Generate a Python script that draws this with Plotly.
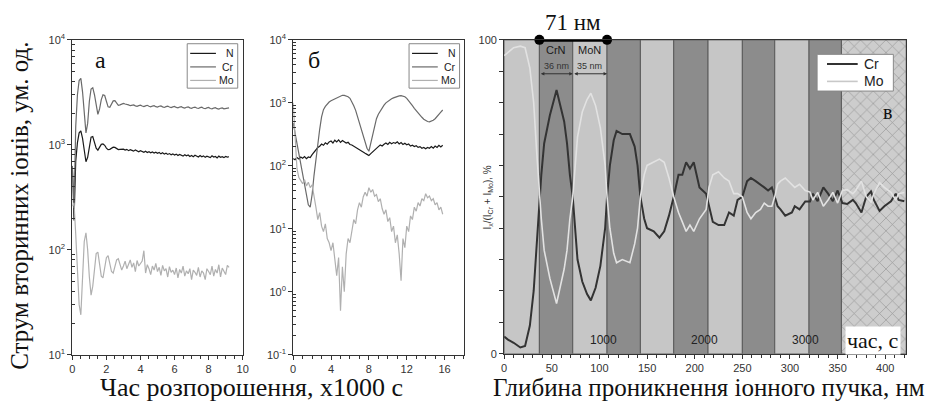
import plotly.graph_objects as go

# ---------------- data: panel a (time, x1000 s; step 0.1) ----------------
a_N = [630, 190, 700, 1050, 1300, 1360, 1150, 850, 690, 760, 1000, 1180, 1200, 1080, 930, 890, 940, 1010, 1020, 990,
       930, 900, 905, 935, 950, 945, 920, 900, 905, 915, 910, 890, 905, 880, 900, 885, 870, 895, 875, 860,
       880, 865, 850, 870, 845, 860, 840, 855, 835, 850, 830, 845, 820, 840, 815, 830, 810, 825, 805, 820,
       800, 815, 790, 810, 795, 780, 805, 785, 800, 775, 790, 770, 795, 780, 765, 790, 770, 785, 760, 780,
       770, 755, 785, 765, 775, 750, 780, 760, 770, 755, 775, 765, 770]
a_Cr = [620, 250, 1500, 3000, 4100, 4300, 3200, 1900, 1300, 1600, 2600, 3400, 3500, 3000, 2300, 1950, 2200, 2700, 3000, 2950,
        2600, 2300, 2280, 2450, 2620, 2630, 2500, 2380, 2400, 2430, 2480, 2450, 2440, 2400, 2360, 2380, 2400, 2350, 2330, 2360,
        2390, 2340, 2310, 2350, 2380, 2330, 2300, 2340, 2360, 2310, 2290, 2330, 2350, 2300, 2270, 2310, 2340, 2290, 2260, 2300,
        2320, 2270, 2250, 2290, 2310, 2260, 2240, 2280, 2300, 2250, 2230, 2270, 2290, 2240, 2220, 2260, 2280, 2230, 2210, 2250,
        2270, 2220, 2200, 2240, 2260, 2210, 2190, 2230, 2250, 2200, 2220, 2260, 2250]
a_Mo = [260, 280, 140, 60, 30, 24, 50, 120, 145, 100, 55, 37, 45, 70, 92, 95, 75, 56, 54, 68,
        84, 88, 76, 62, 60, 68, 80, 82, 72, 64, 70, 78, 66, 74, 80, 68, 75, 62, 79, 70,
        73, 78, 98, 60, 72, 66, 58, 70, 64, 74, 62, 68, 57, 71, 63, 66, 55, 69, 61, 64,
        58, 67, 54, 65, 60, 70, 56, 63, 59, 66, 52, 64, 61, 57, 68, 55, 63, 60, 52, 66,
        62, 58, 70, 56, 65, 60, 72, 55, 67, 63, 58, 71, 68]

# ---------------- data: panel b (time, x1000 s; step 0.2) ----------------
b_N = [130, 125, 135, 128, 138, 132, 140, 130, 138, 135, 150, 165, 178, 195, 205, 222, 212, 232, 220, 240,
       248, 230, 255, 240, 258, 236, 252, 240, 230, 236, 218, 214, 204, 198, 188, 178, 172, 164, 158, 152,
       146, 156, 168, 178, 192, 202, 214, 206, 220, 230, 218, 236, 224, 234, 228, 240, 222, 234, 218, 228,
       216, 222, 206, 212, 202, 208, 196, 202, 190, 196, 186, 196, 190, 202, 190, 206, 196, 212, 200, 212]
b_Cr = [480, 330, 230, 160, 110, 81, 55, 35, 24, 22, 35, 70, 130, 220, 380, 600, 780, 880, 960, 1030,
        1080, 1120, 1170, 1200, 1250, 1290, 1320, 1310, 1290, 1250, 1180, 1050, 900, 760, 600, 480, 390, 310, 240, 190,
        170, 230, 330, 440, 560, 660, 750, 840, 920, 1000, 1060, 1110, 1160, 1200, 1240, 1270, 1290, 1300, 1290, 1250,
        1180, 1090, 990, 900, 820, 750, 690, 640, 590, 550, 520, 505, 500, 510, 530, 560, 600, 650, 710, 770]
b_Mo = [1000, 300, 90, 65, 58, 52, 60, 48, 55, 45, 50, 35, 22, 14, 18, 11, 9, 12, 7, 6,
        4.5, 6, 3, 1.8, 3.5, 0.5, 2.5, 1.0, 4, 7, 6, 10, 14, 12, 20, 26, 22, 32, 38, 33,
        45, 38, 42, 33, 35, 27, 30, 21, 17, 20, 13, 15, 9, 11, 6, 8, 4, 1.5, 7, 5,
        11, 9, 16, 14, 22, 19, 26, 23, 30, 28, 36, 31, 33, 28, 30, 24, 26, 20, 22, 17]

# ---------------- data: panel v (depth, nm) ----------------
depth_v = [0, 4, 10, 17, 22, 27, 31, 34, 37, 39, 42, 48, 55, 59, 63, 66, 69, 72, 77, 82,
           87, 91, 96, 101, 106, 108, 111, 115, 118, 124, 132, 137, 140, 143, 147, 150, 157, 163, 168, 173,
           178, 183, 187, 191, 195, 199, 205, 212, 215, 219, 225, 231, 236, 241, 245, 250, 255, 259, 264, 269,
           273, 277, 281, 284, 287, 290, 295, 302, 305, 310, 316, 321, 324, 329, 335, 340, 345, 350, 355, 360,
           366, 369, 375, 380, 385, 388, 394, 399, 406, 411, 414, 420]
v_Cr = [5.5, 4.5, 3.5, 2, 2.5, 9, 20, 35, 50, 57, 67, 76, 84, 79, 74, 67, 57, 50, 30, 23,
        19, 17, 21, 28, 40, 50, 60, 68, 71, 70, 70, 66, 60, 50, 43, 40, 39, 37, 39, 44,
        50, 57, 57, 61, 59, 61, 53, 51, 47, 42, 41, 41, 45, 44, 49, 50, 55, 56, 55, 54,
        53, 52, 53, 50, 47, 46, 44, 45, 47, 46, 48.5, 48.5, 51, 48.6, 53, 51, 48.6, 52, 48, 47.7,
        49, 48, 45, 50, 51.7, 49, 45.5, 47, 48.6, 51, 49, 48.6]
v_Mo = [95, 96, 97.5, 98, 97.5, 91, 80, 65, 50, 43, 33, 24, 16, 21, 27, 33, 43, 50, 69, 77,
        81, 83, 79, 72, 60, 50, 40, 32, 29, 30, 29, 35, 40, 50, 57, 60, 61, 62, 61, 56,
        50, 45, 42, 39, 41, 39, 43, 46, 53, 57, 58, 56, 55, 51, 51, 50, 45, 43, 45, 46,
        48, 47, 47, 50, 54, 55, 56, 54, 53, 54, 52, 51.5, 49, 51.4, 47, 49, 51.4, 48, 52, 52.3,
        51, 52, 55, 50, 48.3, 51, 54.5, 53, 51.4, 49, 51, 51.4]

band_edges = [0, 37, 72, 108, 143, 178, 214, 250, 284, 320, 354, 422]
band_kind = ["light", "dark", "light", "dark", "light", "dark", "light", "dark", "light", "dark", "hatch"]
period_span = [37, 108]
period_label = "71 нм"
layer_names = ["CrN", "MoN"]
layer_thick = ["36 nm", "35 nm"]
time_marks = [104, 210, 316]
time_labels = ["1000", "2000", "3000"]
legend_ab = ["N", "Cr", "Mo"]
legend_v = ["Cr", "Mo"]

assert len(depth_v) == len(v_Cr) == len(v_Mo)

t_a = [round(0.1 * i, 1) for i in range(len(a_N))]
t_b = [round(0.2 * i, 1) for i in range(len(b_N))]

SERIF = "Liberation Serif, Times New Roman, serif"
SANS = "Liberation Sans, Arial, sans-serif"
W, H = 936, 409


def px(x):
    return x / W


def py(y):
    return 1 - y / H


C_N, C_CR, C_MO = "#1a1a1a", "#6a6a6a", "#b0b0b0"
COLS_AB = [C_N, C_CR, C_MO]
COLS_V = ["#333333", "#e2e2e2"]

fig = go.Figure()

for name, vals, col in zip(legend_ab, [a_N, a_Cr, a_Mo], COLS_AB):
    fig.add_trace(go.Scatter(x=t_a, y=vals, name=name, mode="lines", line=dict(color=col, width=1.2),
                             xaxis="x", yaxis="y", showlegend=False))
for name, vals, col in zip(legend_ab, [b_N, b_Cr, b_Mo], COLS_AB):
    fig.add_trace(go.Scatter(x=t_b, y=vals, name=name, mode="lines", line=dict(color=col, width=1.2),
                             xaxis="x2", yaxis="y2", showlegend=False))

# bands
centers = [(band_edges[i] + band_edges[i + 1]) / 2 for i in range(len(band_kind))]
widths = [band_edges[i + 1] - band_edges[i] for i in range(len(band_kind))]
plain_idx = [i for i, k in enumerate(band_kind) if k != "hatch"]
hatch_idx = [i for i, k in enumerate(band_kind) if k == "hatch"]
fig.add_trace(go.Bar(x=[centers[i] for i in plain_idx], y=[100] * len(plain_idx),
                     width=[widths[i] for i in plain_idx],
                     marker=dict(color=["#c6c6c6" if band_kind[i] == "light" else "#8c8c8c" for i in plain_idx],
                                 line=dict(color="#5a5a5a", width=1)),
                     xaxis="x3", yaxis="y3", showlegend=False, hoverinfo="skip"))
fig.add_trace(go.Bar(x=[centers[i] for i in hatch_idx], y=[100] * len(hatch_idx),
                     width=[widths[i] for i in hatch_idx],
                     marker=dict(color="#d2d2d2", line=dict(color="#5a5a5a", width=1),
                                 pattern=dict(shape="x", fillmode="replace", bgcolor="#cdcdcd",
                                              fgcolor="#969696", size=9, solidity=0.14)),
                     xaxis="x3", yaxis="y3", showlegend=False, hoverinfo="skip"))

for name, vals, col, w in zip(legend_v, [v_Cr, v_Mo], COLS_V, [2, 1.6]):
    fig.add_trace(go.Scatter(x=depth_v, y=vals, name=name, mode="lines", line=dict(color=col, width=w),
                             xaxis="x3", yaxis="y3", showlegend=False))

# 71 nm bar
fig.add_trace(go.Scatter(x=period_span, y=[100, 100], mode="lines+markers",
                         line=dict(color="black", width=4), marker=dict(color="black", size=10),
                         xaxis="x3", yaxis="y3", showlegend=False, cliponaxis=False, hoverinfo="skip"))

tickfont = dict(family=SANS, size=11, color="#333")
ydom = [py(359), py(33)]


def log_minor(lo, hi):
    return [m * 10 ** d for d in range(lo, hi) for m in range(2, 10)]


axis_common = dict(showline=True, mirror=True, linecolor="#333", linewidth=1, showgrid=False, zeroline=False,
                   tickfont=tickfont, ticks="outside", ticklen=4, tickcolor="#333")

layout = dict(
    width=W, height=H, margin=dict(l=0, r=0, t=0, b=0),
    paper_bgcolor="white", plot_bgcolor="white", barmode="overlay", showlegend=False,
    xaxis=dict(domain=[px(70), px(242)], range=[0, 10], dtick=2, anchor="y",
               minor=dict(dtick=0.5, ticks="outside", ticklen=3, tickcolor="#333"), **axis_common),
    yaxis=dict(domain=ydom, type="log", range=[1, 4], anchor="x",
               tickvals=[10, 100, 1000, 10000],
               ticktext=["10<sup>1</sup>", "10<sup>2</sup>", "10<sup>3</sup>", "10<sup>4</sup>"],
               minor=dict(tickmode="array", tickvals=log_minor(1, 4), ticks="inside", ticklen=3, tickcolor="#333"),
               **axis_common),
    xaxis2=dict(domain=[px(293), px(465)], range=[0, 18], tickvals=[0, 4, 8, 12, 16], anchor="y2",
                minor=dict(dtick=1, ticks="outside", ticklen=3, tickcolor="#333"), **axis_common),
    yaxis2=dict(domain=ydom, type="log", range=[-1, 4], anchor="x2",
                tickvals=[0.1, 1, 10, 100, 1000, 10000],
                ticktext=["10<sup>-1</sup>", "10<sup>0</sup>", "10<sup>1</sup>", "10<sup>2</sup>", "10<sup>3</sup>",
                          "10<sup>4</sup>"],
                minor=dict(tickmode="array", tickvals=log_minor(-1, 4), ticks="inside", ticklen=3, tickcolor="#333"),
                **axis_common),
    xaxis3=dict(domain=[px(506), px(912)], range=[0, 422], dtick=50, anchor="y3",
                minor=dict(dtick=10, ticks="outside", ticklen=3, tickcolor="#333"), **axis_common),
    yaxis3=dict(domain=[py(358), py(33)], range=[0, 100], anchor="x3",
                tickvals=list(range(0, 101, 10)),
                ticktext=["0"] + [""] * 9 + ["100"], **axis_common),
)
fig.update_layout(**layout)

shapes = []
ann = []


def txt(x, y, text, size, family=SERIF, color="#111", xanchor="center", yanchor="middle", xref="paper",
        yref="paper", **kw):
    d = dict(x=x, y=y, xref=xref, yref=yref, text=text, showarrow=False, xanchor=xanchor, yanchor=yanchor,
             font=dict(family=family, size=size, color=color))
    d.update(kw)
    ann.append(d)


# manual legends (panel a and b)
for x0 in (186, 410):
    shapes.append(dict(type="rect", xref="paper", yref="paper", x0=px(x0), x1=px(x0 + 51), y0=py(83), y1=py(37),
                       fillcolor="white", line=dict(color="#888", width=1), layer="above"))
    for k, (nm_, col) in enumerate(zip(legend_ab, COLS_AB)):
        yy = 47 + 14 * k
        shapes.append(dict(type="line", xref="paper", yref="paper", x0=px(x0 + 3), x1=px(x0 + 29),
                           y0=py(yy), y1=py(yy), line=dict(color=col, width=1.2), layer="above"))
        txt(px(x0 + 49), py(yy), nm_, 10.5, family=SANS, color="#222", xanchor="right")

# manual legend (panel v)
shapes.append(dict(type="rect", xref="paper", yref="paper", x0=px(822), x1=px(899), y0=py(86), y1=py(48),
                   fillcolor="white", line=dict(color="#888", width=1), layer="above"))
for k, (nm_, col, w) in enumerate(zip(legend_v, COLS_V, [2, 1.6])):
    yy = 58 + 18 * k
    shapes.append(dict(type="line", xref="paper", yref="paper", x0=px(832), x1=px(863),
                       y0=py(yy), y1=py(yy), line=dict(color=col if k == 0 else "#c8c8c8", width=w), layer="above"))
    txt(px(867), py(yy), nm_, 14, family=SANS, color="#222", xanchor="left")

txt(px(17), py(205), "Струм вторинних іонів, ум. од.", 25, textangle=-90)
txt(px(251), py(393), "Час розпорошення, x1000 с", 26)
txt(px(713), py(393), "Глибина проникнення іонного пучка, нм", 25)
txt(px(98), py(54), "а", 24)
txt(px(314), py(54), "б", 24)
txt(402, 77, "в", 20, xref="x3", yref="y3")
txt(px(490), py(196), "I<sub>x</sub>/(I<sub>Cr</sub> + I<sub>Mo</sub>), %", 10, family=SANS, color="#333",
    textangle=-90)
txt((period_span[0] + period_span[1]) / 2, py(15), period_label, 23, xref="x3")
mids = [(band_edges[1] + band_edges[2]) / 2, (band_edges[2] + band_edges[3]) / 2]
for m, nm_, th in zip(mids, layer_names, layer_thick):
    txt(m, 96.9, nm_, 11, family=SANS, color="#1a1a1a", xref="x3", yref="y3")
    txt(m, 91.6, th, 9, family=SANS, color="#333", xref="x3", yref="y3")
for a0, a1 in [(band_edges[1], band_edges[2]), (band_edges[2], band_edges[3])]:
    ann.append(dict(x=a1, y=89.2, ax=a0, ay=89.2, xref="x3", yref="y3", axref="x3", ayref="y3", text="",
                    showarrow=True, arrowhead=2, startarrowhead=2, arrowside="end+start", arrowsize=0.7,
                    startarrowsize=0.7, arrowwidth=1, arrowcolor="#333"))
for tm, tl in zip(time_marks, time_labels):
    txt(tm, 4.3, tl, 12, family=SANS, color="#222", xref="x3", yref="y3")
txt(387, 4.3, "час, с", 22, xref="x3", yref="y3", bgcolor="white")

fig.update_layout(annotations=ann, shapes=shapes)

fig.write_html("out.html")
